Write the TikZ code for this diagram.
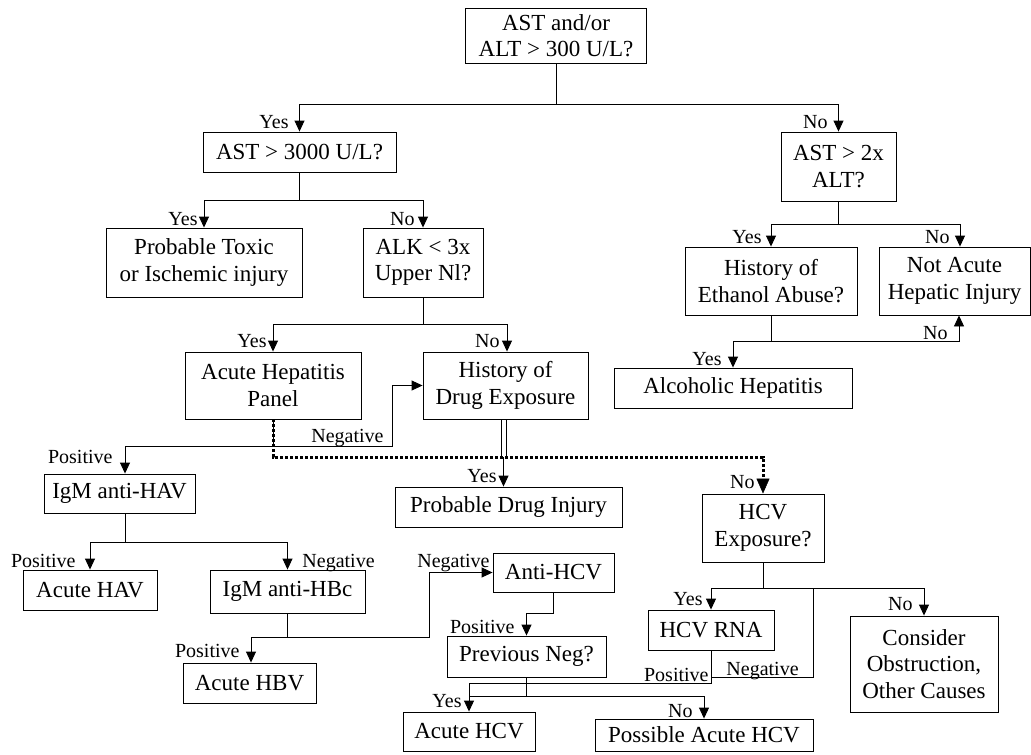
\documentclass[tikz,border=0pt]{standalone}
\usepackage{fontspec}
\setmainfont{Liberation Serif}
\usetikzlibrary{arrows.meta}
\newcommand{\bfnt}{\fontsize{23}{26.5}\selectfont}
\newcommand{\lfnt}{\fontsize{20}{22}\selectfont}
\begin{document}
\begin{tikzpicture}[x=1pt,y=-1pt, line width=0.9pt,
 box/.style={draw, align=center, font=\bfnt, inner sep=0pt},
 lab/.style={font=\lfnt, inner sep=0pt},
 arr/.style={-{Triangle[length=11pt,width=10pt]}},
 dotline/.style={line width=3pt, dash pattern=on 3pt off 2pt, -{Triangle[length=15pt,width=13pt,line width=0.5pt]}}]
\fill[white] (0,0) rectangle (1031,755);
\useasboundingbox (0,0) rectangle (1031,755);
% boxes
\node[box, minimum width=181, minimum height=55] (t1) at (556,35.5) {AST and/or\\ALT > 300 U/L?};
\node[box, minimum width=193, minimum height=40] (b2) at (299.5,152) {AST > 3000 U/L?};
\node[box, minimum width=196, minimum height=69] (b3) at (204,262.5) {Probable Toxic\\or Ischemic injury};
\node[box, minimum width=120, minimum height=69] (b4) at (423,262.5) {ALK < 3x\\Upper Nl?};
\node[box, minimum width=176, minimum height=67] (b5) at (273,385.5) {Acute Hepatitis\\Panel};
\node[box, minimum width=165, minimum height=67] (b6) at (505.5,385.5) {History of\\Drug Exposure};
\node[box, minimum width=227, minimum height=40] (b7) at (508.5,507) {Probable Drug Injury};
\node[box, minimum width=151, minimum height=39] (b8) at (119.5,493.5) {IgM anti-HAV};
\node[box, minimum width=134, minimum height=40] (b9) at (90,590) {Acute HAV};
\node[box, minimum width=155, minimum height=43] (b10) at (287.5,591.5) {IgM anti-HBc};
\node[box, minimum width=133, minimum height=40] (b11) at (249.5,683) {Acute HBV};
\node[box, minimum width=121, minimum height=39] (b12) at (553.5,572.5) {Anti-HCV};
\node[box, minimum width=159, minimum height=41] (b13) at (526.5,656.5) {Previous Neg?};
\node[box, minimum width=132, minimum height=39] (b14) at (469,731.5) {Acute HCV};
\node[box, minimum width=218, minimum height=32] (b15) at (704,735) {Possible Acute HCV};
\node[box, minimum width=122, minimum height=68] (hx) at (763,528) {HCV\\Exposure?};
\node[box, minimum width=126, minimum height=40] (rna) at (711,630) {HCV RNA};
\node[box, minimum width=148, minimum height=96] (cons) at (924,664) {Consider\\Obstruction,\\Other Causes};
\node[box, minimum width=115, minimum height=69] (r1) at (838.5,166.5) {AST > 2x\\ALT?};
\node[box, minimum width=172, minimum height=68] (r2) at (771,281) {History of\\Ethanol Abuse?};
\node[box, minimum width=151, minimum height=68] (r3) at (954.5,281) {Not Acute\\Hepatic Injury};
\node[box, minimum width=238, minimum height=40] (r4) at (733,388) {Alcoholic Hepatitis};
% junctions
\coordinate (j1) at (556,104);
\coordinate (j2) at (299.5,200);
\coordinate (j3) at (423,324);
\coordinate (j4) at (273,446);
\coordinate (n1) at (392,446);
\coordinate (d1) at (273,457);
\coordinate (dj) at (503.5,457);
\coordinate (j5) at (125,542);
\coordinate (j6) at (287.5,637);
\coordinate (n2) at (429,637);
\coordinate (p1) at (553.5,613);
\coordinate (j7) at (526.5,696);
\coordinate (q1) at (469,683);
\coordinate (q2) at (469,696);
\coordinate (m1) at (711,677);
\coordinate (m2) at (813,588);
\coordinate (j8) at (763,588);
\coordinate (j9) at (838.5,224);
\coordinate (j10) at (771,341);
% connectors
\draw (t1.south) -- (j1);
\draw[arr] (j1) -| (b2.north);
\draw[arr] (j1) -| (r1.north);
\draw (b2.south) -- (j2);
\draw[arr] (j2) -| (b3.north);
\draw[arr] (j2) -| (b4.north);
\draw (b4.south) -- (j3);
\draw[arr] (j3) -| (b5.north);
\draw[arr] (j3) -| ([xshift=1.5pt]b6.north);
\draw (b5.south) -- (j4);
\draw[arr] (j4) -| ([xshift=5.5pt]b8.north);
\draw[arr] (j4) -- (n1) |- (b6.west);
\draw[dotline] (b5.south) -- (d1) -| (hx.north);
\draw ([xshift=-4.5pt]b6.south) -- ([xshift=-4.5pt]b6.south |- dj);
\draw ([xshift=0.5pt]b6.south) -- ([xshift=0.5pt]b6.south |- dj);
\draw[arr] (dj) -- (dj |- b7.north);
\draw ([xshift=5.5pt]b8.south) -- (j5);
\draw[arr] (j5) -| (b9.north);
\draw[arr] (j5) -| (b10.north);
\draw (b10.south) -- (j6);
\draw[arr] (j6) -| ([xshift=1.5pt]b11.north);
\draw[arr] (j6) -- (n2) |- (b12.west);
\draw[arr] (b12.south) -- (p1) -| (b13.north);
\draw (b13.south) -- (j7);
\draw[arr] (j7) -| (b14.north);
\draw[arr] (j7) -| (b15.north);
\draw (rna.south) |- (q1) -- (q2);
\draw (m1) -| (m2);
\draw (hx.south) -- (j8);
\draw[arr] (j8) -| (rna.north);
\draw[arr] (j8) -| (cons.north);
\draw (r1.south) -- (j9);
\draw[arr] (j9) -| (r2.north);
\draw[arr] (j9) -| ([xshift=5.5pt]r3.north);
\draw (r2.south) -- (j10);
\draw[arr] (j10) -| ([xshift=4.5pt]r3.south);
\draw[arr] (j10) -| (r4.north);
% labels
\node[lab, anchor=base east] (l1) at (289,128) {Yes};
\node[lab, anchor=base east] (l2) at (828,128) {No};
\node[lab, anchor=base east] (l3) at (198,225) {Yes};
\node[lab, anchor=base east] (l4) at (415,225) {No};
\node[lab, anchor=base east] (l5) at (267,347) {Yes};
\node[lab, anchor=base east] (l6) at (500,347) {No};
\node[lab, anchor=base east] (l7) at (384,442) {Negative};
\node[lab, anchor=base east] (l8) at (113,463) {Positive};
\node[lab, anchor=base east] (l9) at (497,482) {Yes};
\node[lab, anchor=base east] (l10) at (755,488) {No};
\node[lab, anchor=base east] (l11) at (76,567) {Positive};
\node[lab, anchor=base west] (l12) at (302,567) {Negative};
\node[lab, anchor=base east] (l13) at (240,657) {Positive};
\node[lab, anchor=base east] (l14) at (490,567) {Negative};
\node[lab, anchor=base east] (l15) at (515,633) {Positive};
\node[lab, anchor=base east] (l16) at (703,605) {Yes};
\node[lab, anchor=base east] (l17) at (913,610) {No};
\node[lab, anchor=base east] (l18) at (709,681) {Positive};
\node[lab, anchor=base west] (l19) at (726,675) {Negative};
\node[lab, anchor=base east] (l20) at (462,707) {Yes};
\node[lab, anchor=base east] (l21) at (693,717) {No};
\node[lab, anchor=base east] (l22) at (762,243) {Yes};
\node[lab, anchor=base east] (l23) at (950,243) {No};
\node[lab, anchor=base east] (l24) at (948,339) {No};
\node[lab, anchor=base east] (l25) at (722,365) {Yes};
\end{tikzpicture}
\end{document}
